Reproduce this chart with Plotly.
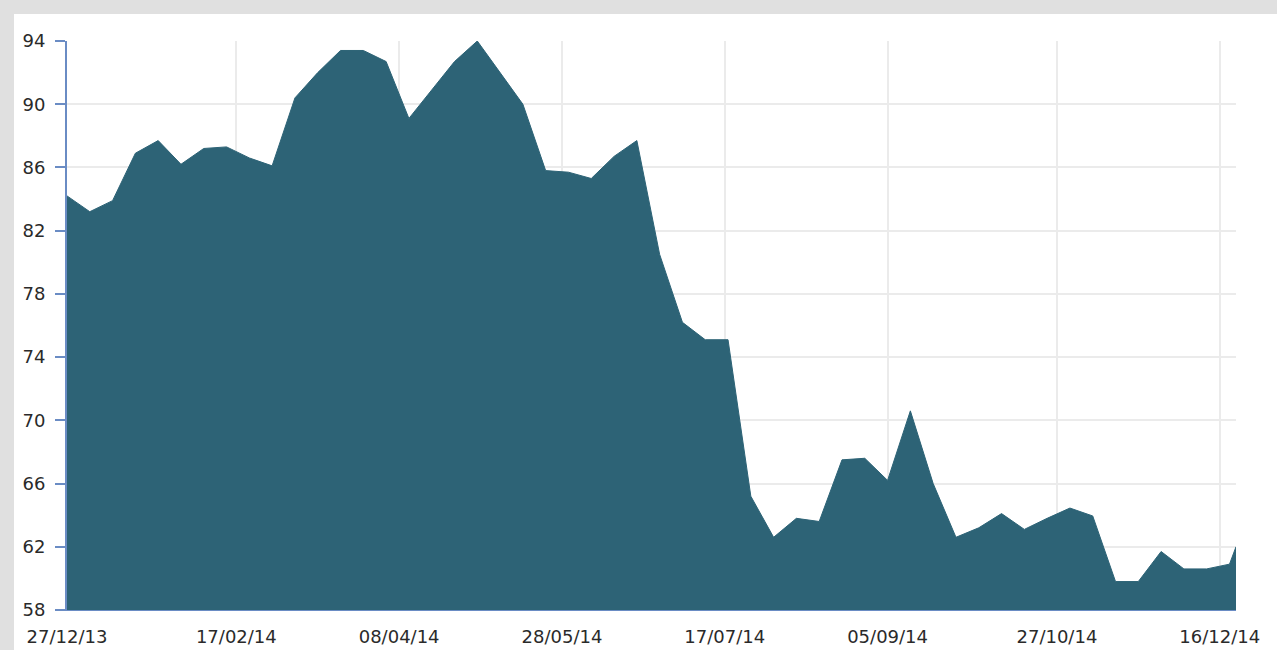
import datetime as dt
import plotly.graph_objects as go

# ---- data ----
start = dt.date(2013, 12, 27)
dates = [start + dt.timedelta(days=7 * k) for k in range(52)] + [dt.date(2014, 12, 21)]
values = [
    84.2, 83.2, 83.9, 86.9, 87.7, 86.2, 87.2, 87.3, 86.6, 86.1,
    90.4, 92.0, 93.4, 93.4, 92.7, 89.1, 90.9, 92.7, 94.0, 92.0,
    90.0, 85.8, 85.7, 85.3, 86.7, 87.7, 80.5, 76.2, 75.1, 75.1,
    65.2, 62.6, 63.8, 63.6, 67.5, 67.6, 66.2, 70.6, 66.0, 62.6,
    63.2, 64.1, 63.1, 63.8, 64.45, 63.95, 59.8, 59.8, 61.7, 60.6,
    60.6, 60.9, 62.0,
]
x_tick_dates = ["2013-12-27", "2014-02-17", "2014-04-08", "2014-05-28",
                "2014-07-17", "2014-09-05", "2014-10-27", "2014-12-16"]
x_tick_labels = ["27/12/13", "17/02/14", "08/04/14", "28/05/14",
                 "17/07/14", "05/09/14", "27/10/14", "16/12/14"]
y_ticks = [58, 62, 66, 70, 74, 78, 82, 86, 90, 94]

FILL = "#2d6376"
AXIS = "#6a8cc4"
GRID = "#ebebeb"
PAGE = "#e0e0e0"
FONT = dict(family="DejaVu Sans, Verdana, sans-serif", size=18, color="#2a2a2a")

fig = go.Figure()
fig.add_trace(go.Scatter(
    x=dates, y=values, mode="lines", fill="tozeroy",
    fillcolor=FILL, line=dict(color=FILL, width=1), hoverinfo="x+y",
))

W, H = 1277, 650
L, R, T, B = 67, 41, 41, 40
pw, ph = W - L - R, H - T - B

# white panel on textured-grey page
fig.add_shape(type="rect", xref="paper", yref="paper", layer="below",
              x0=(14 - L) / pw, x1=(W - L + 5) / pw,
              y0=-(B + 5) / ph, y1=(H - B - 14) / ph,
              fillcolor="white", line=dict(width=0))

fig.update_layout(
    width=W, height=H,
    margin=dict(l=L, r=R, t=T, b=B, autoexpand=False),
    paper_bgcolor=PAGE,
    plot_bgcolor="white",
    showlegend=False,
    font=FONT,
    xaxis=dict(
        type="date", automargin=False,
        range=[dates[0], dates[-1]],
        tickvals=x_tick_dates, ticktext=x_tick_labels,
        showgrid=True, gridcolor=GRID, gridwidth=2,
        showline=True, linecolor=AXIS, linewidth=1,
        ticks="", ticklabelstandoff=10,
        zeroline=False, tickfont=FONT,
    ),
    yaxis=dict(
        automargin=False,
        range=[58, 94],
        tickvals=y_ticks,
        showgrid=True, gridcolor=GRID, gridwidth=2,
        showline=True, linecolor=AXIS, linewidth=2,
        ticks="outside", ticklen=10, tickcolor=AXIS, tickwidth=2,
        ticklabelstandoff=6,
        zeroline=False, tickfont=FONT,
    ),
)

fig.write_html(
    "out.html",
    config={"displayModeBar": False},
    post_script="document.body.style.margin='0';"
                "document.body.style.background='" + PAGE + "';"
                "document.body.style.overflow='hidden';",
)
